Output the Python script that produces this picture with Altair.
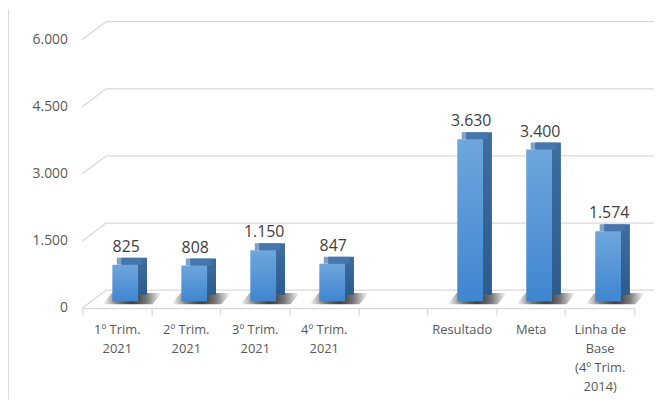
import altair as alt
import pandas as pd

categories = ["1º Trim.|2021", "2º Trim.|2021", "3º Trim.|2021", "4º Trim.|2021", " ",
              "Resultado", "Meta", "Linha de|Base|(4º Trim.|2014)"]
values = [825, 808, 1150, 847, None, 3630, 3400, 1574]
y_ticks = [0, 1500, 3000, 4500, 6000]

W, H = 557, 271
DX, DY = 24, -18          # back-wall depth
FX, FY = 8.5, -6.5        # bar front-face offset
BW = 26                   # bar front width
BDX, BDY = 9, -7          # bar depth

df = pd.DataFrame({"cat": categories, "v": values}).dropna()
grid = pd.DataFrame({"g": y_ticks})

FONT = "Open Sans"
GRID = "#d9d9d9"

xscale = alt.Scale(domain=categories, paddingInner=0, paddingOuter=0)
yscale = alt.Scale(domain=[0, 6000], nice=False)

fmt = "replace(format(datum.value, ','), ',', '.')"

x_axis = alt.Axis(
    labelExpr="split(datum.label, '|')", labelAngle=0, labelFont=FONT,
    labelFontSize=13, labelColor="#595959", labelLineHeight=19,
    labelBaseline="top", labelPadding=9, domainColor=GRID, domainWidth=1.3,
    tickColor=GRID, tickWidth=1.3, tickSize=7, tickBand="extent", grid=False, title=None)
y_axis = alt.Axis(
    values=y_ticks, labelExpr=fmt, labelFont=FONT, labelFontSize=14,
    labelColor="#595959", labelPadding=15, domain=False, ticks=False, grid=False, title=None)


def X():
    return alt.X("cat:N", scale=xscale, axis=x_axis)


def Y(field):
    return alt.Y(field, scale=yscale, axis=y_axis)


back_lines = alt.Chart(grid).mark_rule(color=GRID, strokeWidth=1.3, yOffset=DY).encode(
    y=Y("g:Q"), x=alt.value(DX), x2=alt.value(W + DX),
)
diag_lines = alt.Chart(grid).mark_rule(color=GRID, strokeWidth=1.3, y2Offset=DY).encode(
    y=Y("g:Q"), y2="g:Q", x=alt.value(0), x2=alt.value(DX),
)

base = alt.Chart(df)

shadow = base.mark_point(
    shape="M -0.8 0.15 L 0.55 0.15 L 0.8 -0.15 L -0.55 -0.15 Z",
    size=5600, filled=True, opacity=1, strokeWidth=0,
    xOffset=FX + 7, yOffset=FY - 3,
    fill=alt.RadialGradient(gradient="radial", stops=[
        alt.GradientStop(color="#2e2e2e", offset=0),
        alt.GradientStop(color="#7a7a7a", offset=0.5),
        alt.GradientStop(color="#ffffff", offset=1)]),
).encode(x=X(), y=Y("zero:Q")).transform_calculate(zero="0")

side = base.mark_bar(
    width=BW, xOffset=FX + BDX, x2Offset=FX + BDX, yOffset=FY + BDY, y2Offset=FY + BDY,
    color=alt.LinearGradient(gradient="linear", x1=0, x2=0, y1=0, y2=1, stops=[
        alt.GradientStop(color="#3f6d9f", offset=0),
        alt.GradientStop(color="#2d5b8e", offset=1)]),
).encode(x=X(), y=Y("v:Q"))

top = base.mark_tick(
    orient="horizontal", size=BW, thickness=abs(BDY), color="#4a7bb2",
    xOffset=FX + BDX / 2, yOffset=FY + BDY / 2,
).encode(x=X(), y=Y("v:Q"))

front = base.mark_bar(
    width=BW, xOffset=FX, x2Offset=FX, yOffset=FY, y2Offset=FY,
    color=alt.LinearGradient(gradient="linear", x1=0, x2=0, y1=0, y2=1, stops=[
        alt.GradientStop(color="#6ea6dd", offset=0),
        alt.GradientStop(color="#3f86d0", offset=1)]),
).encode(x=X(), y=Y("v:Q"))

labels = base.mark_text(
    font=FONT, fontSize=16, color="#404040", baseline="alphabetic",
    xOffset=FX + 1, yOffset=FY - 13,
).encode(
    x=X(), y=Y("v:Q"), text="lbl:N",
).transform_calculate(lbl="replace(format(datum.v, ','), ',', '.')")

border = alt.Chart(grid).mark_rule(color=GRID, strokeWidth=1).encode(
    x=alt.value(-75), y=alt.value(-30), y2=alt.value(H + 92),
)

chart = alt.layer(back_lines, diag_lines, shadow, side, top, front, labels, border).properties(
    width=W, height=H,
    background="white",
    autosize=alt.AutoSizeParams(type="none"),
    padding={"left": 75, "top": 30, "right": 20, "bottom": 92},
).configure_view(strokeWidth=0, stroke="transparent")

chart.save("out.html", embed_options={"renderer": "svg", "actions": False})
